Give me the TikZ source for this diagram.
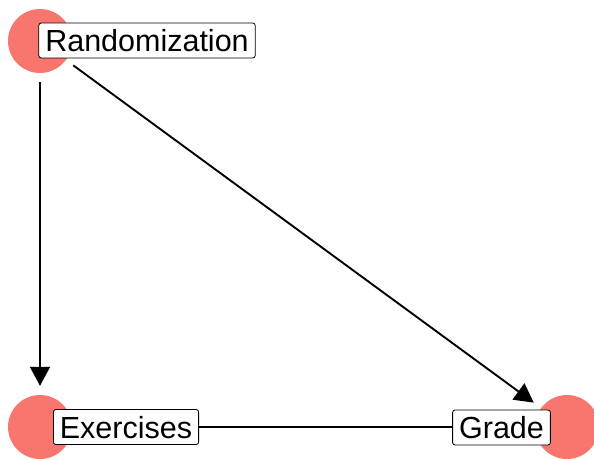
\documentclass[tikz,border=0pt]{standalone}
\usepackage{fontspec}
\setmainfont{Liberation Sans}
\usetikzlibrary{arrows.meta}
\definecolor{salmon}{HTML}{F8766D}
\begin{document}
\begin{tikzpicture}[x=1pt,y=1pt,
  dot/.style={circle,fill=salmon,draw=none,minimum size=64pt,inner sep=0pt},
  lbl/.style={draw=black,fill=white,rounded corners=2.5pt,line width=0.8pt,font=\fontsize{30.5}{31}\selectfont,text height=22pt,text depth=0pt,inner xsep=6.5pt,inner ysep=6.5pt},
  edge/.style={line width=1.9pt,shorten <=9pt,shorten >=9pt},
  arr/.style={edge,-{Triangle[length=19pt,width=20pt]}}]
\useasboundingbox (0,0) rectangle (594,458);
\clip (0,0) rectangle (594,458);
\node[dot] (r) at (40,417) {};
\node[dot] (e) at (40,31) {};
\node[dot] (g) at (567,31) {};
\draw[arr] (r) -- (e);
\draw[arr] (r) -- (g);
\draw[edge] (e) -- (g);
\node[lbl] (rl) at (147,417.5) {Randomization};
\node[lbl] (el) at (126,31) {Exercises};
\node[lbl] (gl) at (501.5,30.5) {Grade};
\end{tikzpicture}
\end{document}
